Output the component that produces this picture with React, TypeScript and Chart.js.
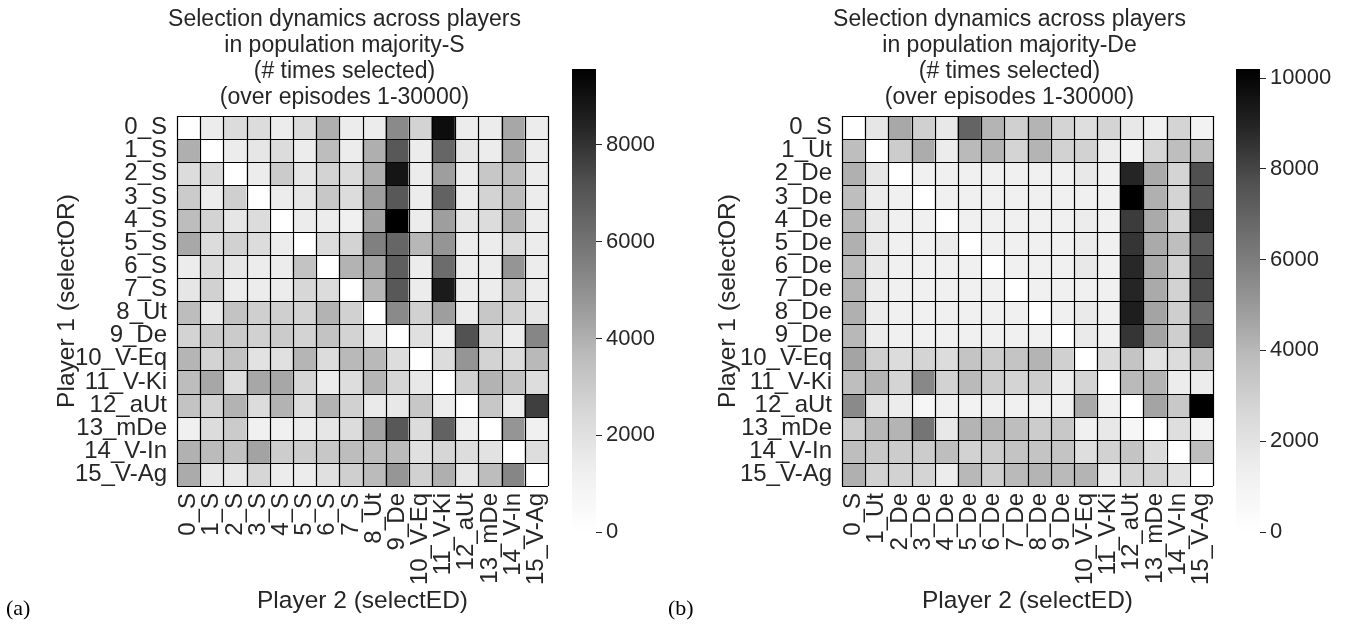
import React, { useEffect, useRef } from 'react';
import { Chart, registerables } from 'chart.js';

Chart.register(...registerables);

const FONT = "'Liberation Sans', Arial, Helvetica, sans-serif";
const TEXT = '#262626';

// ---------- Panel (a): population majority-S ----------
const labelsA = ['0_S', '1_S', '2_S', '3_S', '4_S', '5_S', '6_S', '7_S', '8_Ut', '9_De', '10_V-Eq', '11_V-Ki', '12_aUt', '13_mDe', '14_V-In', '15_V-Ag'];
const titleA = ['Selection dynamics across players', 'in population majority-S', '(# times selected)', '(over episodes 1-30000)'];
const maxA = 9570;
const cbarTicksA = [0, 2000, 4000, 6000, 8000];

const a00 = [0, 1420, 2260, 2260, 1420, 2260, 4030, 1420, 1420, 5180, 2630, 9150, 1420, 1420, 4270, 1420];
const a01 = [4030, 0, 1420, 1730, 2260, 1420, 3590, 1420, 4030, 6960, 1420, 6450, 1730, 1420, 4270, 1420];
const a02 = [2260, 2260, 0, 1420, 2980, 1730, 2630, 2260, 4030, 8890, 1420, 4530, 1420, 3150, 3590, 1420];
const a03 = [2980, 1420, 2800, 0, 1420, 1730, 3150, 2260, 4530, 6960, 1420, 6600, 1420, 2630, 3590, 1420];
const a04 = [3590, 2630, 1730, 2260, 0, 1420, 1420, 1210, 4400, 9570, 1420, 4530, 1730, 2260, 3910, 1420];
const a05 = [4220, 2260, 2720, 2260, 1420, 0, 2260, 2630, 5520, 6450, 3780, 4835, 1420, 1420, 2260, 1420];
const a06 = [1420, 2260, 1730, 1420, 1420, 3330, 0, 3910, 4400, 6740, 1420, 6230, 1420, 1420, 4835, 1420];
const a07 = [1730, 2720, 1420, 1420, 1420, 2460, 2260, 0, 3780, 6960, 1420, 8690, 1420, 1420, 3150, 1420];
const a08 = [3590, 1620, 3330, 2800, 2800, 2630, 3910, 2720, 0, 5180, 2720, 4530, 1420, 3150, 2720, 1730];
const a09 = [2630, 2980, 2980, 2720, 2980, 2630, 3330, 2630, 1620, 0, 2050, 1210, 7180, 2540, 1420, 5320];
const a10 = [3840, 2630, 3330, 1940, 2050, 3840, 2260, 3720, 3720, 2160, 0, 2260, 4835, 2630, 2260, 3720];
const a11 = [3590, 4270, 2160, 4270, 4270, 2540, 1420, 2160, 3840, 2540, 1620, 0, 2720, 3910, 3330, 2160];
const a12 = [3330, 2630, 3910, 2260, 3910, 2160, 3910, 2720, 1530, 1620, 3150, 1420, 0, 3150, 1420, 7680];
const a13 = [1210, 2260, 2980, 1210, 1210, 1420, 1730, 2260, 4400, 6960, 2260, 6600, 1310, 0, 4835, 1210];
const a14 = [3960, 3660, 3410, 4400, 2890, 2890, 3150, 3590, 3590, 3660, 2050, 2540, 2160, 1940, 0, 2160];
const a15 = [4150, 1620, 1620, 2540, 1420, 1420, 2050, 2800, 3660, 4780, 2720, 4030, 1730, 3590, 5320, 0];
const rowsA = [a00, a01, a02, a03, a04, a05, a06, a07, a08, a09, a10, a11, a12, a13, a14, a15];

// ---------- Panel (b): population majority-De ----------
const labelsB = ['0_S', '1_Ut', '2_De', '3_De', '4_De', '5_De', '6_De', '7_De', '8_De', '9_De', '10_V-Eq', '11_V-Ki', '12_aUt', '13_mDe', '14_V-In', '15_V-Ag'];
const titleB = ['Selection dynamics across players', 'in population majority-De', '(# times selected)', '(over episodes 1-30000)'];
const maxB = 10200;
const cbarTicksB = [0, 2000, 4000, 6000, 8000, 10000];

const b00 = [0, 1820, 4500, 2950, 1710, 6940, 4110, 2950, 4110, 2770, 2270, 2770, 1710, 1270, 2770, 1100];
const b01 = [3780, 0, 3140, 4370, 1500, 3920, 4110, 2770, 4110, 2860, 2860, 1500, 1100, 2680, 3780, 3780];
const b02 = [4250, 1820, 0, 1270, 1270, 1270, 1270, 1270, 1270, 1270, 1710, 1270, 8940, 4440, 2770, 7700];
const b03 = [3780, 1500, 1270, 0, 1270, 1270, 1270, 1270, 1270, 1270, 1270, 1270, 10200, 4250, 2770, 7550];
const b04 = [3980, 1710, 1270, 1270, 0, 1270, 1270, 1270, 1270, 1270, 1500, 1270, 8260, 4440, 2770, 8710];
const b05 = [4250, 1710, 1270, 1270, 1500, 0, 1270, 1270, 1270, 1270, 1500, 1270, 8480, 4440, 3780, 7400];
const b06 = [3850, 1710, 1270, 1270, 1270, 1270, 0, 1270, 1270, 1270, 1710, 1270, 8830, 4440, 2860, 7920];
const b07 = [4110, 1500, 1270, 1270, 1270, 1270, 1270, 0, 1270, 1270, 1270, 1270, 8940, 4440, 2860, 7920];
const b08 = [4250, 1500, 1270, 1270, 1270, 1270, 1270, 1270, 0, 1270, 1610, 1270, 9150, 4630, 3040, 6790];
const b09 = [3980, 1500, 1270, 1270, 1270, 1270, 1270, 1270, 1270, 0, 1610, 1270, 8480, 4630, 3040, 7810];
const b10 = [4630, 2950, 2380, 2770, 2380, 3500, 3140, 3500, 4110, 2950, 0, 2380, 3500, 2050, 2380, 3780];
const b11 = [3780, 4110, 2770, 5600, 2860, 3920, 3140, 2770, 3140, 1500, 2770, 0, 3920, 4110, 1500, 1500];
const b12 = [5530, 2050, 1500, 760, 1270, 1100, 1270, 1270, 1270, 1270, 4440, 1270, 0, 4630, 3320, 10200];
const b13 = [3140, 3980, 4110, 6320, 1710, 4110, 4110, 3780, 3140, 3320, 1270, 1710, 760, 0, 2270, 930];
const b14 = [3780, 3320, 3140, 3140, 3780, 2860, 3140, 3500, 3500, 3500, 2270, 2860, 3500, 2380, 0, 3780];
const b15 = [4250, 2860, 2860, 2770, 1500, 3980, 3040, 3920, 4110, 3920, 4110, 1710, 2770, 2860, 2050, 0];
const rowsB = [b00, b01, b02, b03, b04, b05, b06, b07, b08, b09, b10, b11, b12, b13, b14, b15];

// matplotlib "Greys" colormap anchor grey levels
const GREY_STOPS = [255, 240, 217, 189, 150, 115, 82, 37, 0];

function greys(t: number): string {
  const c = Math.max(0, Math.min(1, t));
  const p = c * (GREY_STOPS.length - 1);
  const i = Math.min(GREY_STOPS.length - 2, Math.floor(p));
  const f = p - i;
  const g = Math.round(GREY_STOPS[i] + (GREY_STOPS[i + 1] - GREY_STOPS[i]) * f);
  return `rgb(${g},${g},${g})`;
}

const heatTitlePlugin = {
  id: 'heatTitle',
  afterDraw(chart: any, _args: any, opts: any) {
    const { ctx, chartArea } = chart;
    if (!opts || !opts.lines) return;
    const cx = (chartArea.left + chartArea.right) / 2 + (opts.shift || 0);
    ctx.save();
    ctx.font = `23px ${FONT}`;
    ctx.fillStyle = TEXT;
    ctx.textAlign = 'center';
    ctx.textBaseline = 'middle';
    const n = opts.lines.length;
    opts.lines.forEach((line: string, i: number) => {
      ctx.fillText(line, cx, chartArea.top - 18 - (n - 1 - i) * 26);
    });
    ctx.restore();
  },
};

// black separators between heatmap cells, placed from the scales
const cellLinesPlugin = {
  id: 'cellLines',
  afterDatasetsDraw(chart: any) {
    const { ctx, chartArea, scales } = chart;
    const xs = scales.x;
    const ys = scales.y;
    const nCols = chart.data.labels.length;
    const nRows = chart.data.datasets.length;
    ctx.save();
    ctx.strokeStyle = '#000000';
    ctx.lineWidth = 1.2;
    ctx.beginPath();
    for (let r = 0; r <= nRows; r++) {
      const py = Math.round(ys.getPixelForValue(r)) + 0.5;
      ctx.moveTo(chartArea.left, py);
      ctx.lineTo(chartArea.right, py);
    }
    for (let c = 0; c <= nCols; c++) {
      const px = Math.round(xs.getPixelForValue(c - 0.5)) + 0.5;
      ctx.moveTo(px, chartArea.top);
      ctx.lineTo(px, chartArea.bottom);
    }
    ctx.stroke();
    ctx.restore();
  },
};

type HeatProps = {
  left: number;
  width: number;
  rows: number[][];
  labels: string[];
  max: number;
  title: string[];
  yAxisWidth: number;
  yTitlePad: number;
};

function Heatmap(props: HeatProps) {
  const ref = useRef<HTMLCanvasElement>(null);
  useEffect(() => {
    const canvas = ref.current!;
    const chart = new Chart(canvas, {
      type: 'bar',
      data: {
        labels: props.labels,
        datasets: props.rows.map((row, r) => ({
          label: props.labels[r],
          data: row.map(() => 1),
          backgroundColor: row.map((v) => greys(v / props.max)),
          borderWidth: 0,
          barPercentage: 1,
          categoryPercentage: 1,
          inflateAmount: 0.5,
        })) as any,
      },
      options: {
        responsive: false,
        animation: false,
        events: [],
        layout: { padding: { top: 116, right: 12, bottom: 8, left: 0 } },
        plugins: {
          legend: { display: false },
          tooltip: { enabled: false },
          title: { display: false },
          heatTitle: { lines: props.title, shift: -18 },
        } as any,
        scales: {
          x: {
            type: 'category',
            stacked: true,
            offset: true,
            grid: { display: false, drawTicks: false },
            border: { display: false },
            ticks: {
              autoSkip: false,
              maxRotation: 90,
              minRotation: 90,
              padding: 7,
              color: TEXT,
              font: { family: FONT, size: 24 },
            },
            title: {
              display: true,
              text: 'Player 2 (selectED)',
              color: TEXT,
              font: { family: FONT, size: 24.5 },
              padding: { top: 0, bottom: 3 },
            },
            afterFit: (s: any) => {
              s.height = 133;
              s.paddingLeft = 0;
              s.paddingRight = 0;
            },
          },
          y: {
            type: 'linear',
            stacked: true,
            reverse: true,
            min: 0,
            max: props.rows.length,
            grid: { display: false, drawTicks: false },
            border: { display: false },
            afterBuildTicks: (s: any) => {
              s.ticks = props.labels.map((_l, i) => ({ value: i + 0.5 }));
            },
            ticks: {
              autoSkip: false,
              padding: 10,
              color: TEXT,
              font: { family: FONT, size: 24 },
              callback: (_v: any, i: number) => props.labels[i],
            },
            title: {
              display: true,
              text: 'Player 1 (selectOR)',
              color: TEXT,
              font: { family: FONT, size: 24.5 },
              padding: { top: props.yTitlePad, bottom: 0 },
            },
            afterFit: (s: any) => {
              s.width = props.yAxisWidth;
              s.paddingTop = 0;
              s.paddingBottom = 0;
            },
          },
        } as any,
      },
      plugins: [cellLinesPlugin as any, heatTitlePlugin as any],
    });
    return () => chart.destroy();
  }, []);
  return (
    <canvas
      ref={ref}
      width={props.width}
      height={627}
      style={{ position: 'absolute', left: props.left, top: 0, width: props.width, height: 627 }}
    />
  );
}

type CbarProps = { left: number; max: number; ticks: number[] };

function Colorbar(props: CbarProps) {
  const ref = useRef<HTMLCanvasElement>(null);
  useEffect(() => {
    const canvas = ref.current!;
    const chart = new Chart(canvas, {
      type: 'bar',
      data: {
        labels: [''],
        datasets: [
          {
            data: [props.max],
            backgroundColor: (ctx: any) => {
              const ca = ctx.chart.chartArea;
              if (!ca) return '#888888';
              const g = ctx.chart.ctx.createLinearGradient(0, ca.bottom, 0, ca.top);
              GREY_STOPS.forEach((gv, i) => g.addColorStop(i / (GREY_STOPS.length - 1), `rgb(${gv},${gv},${gv})`));
              return g;
            },
            borderWidth: 0,
            barPercentage: 1,
            categoryPercentage: 1,
            inflateAmount: 0,
          } as any,
        ],
      },
      options: {
        responsive: false,
        animation: false,
        events: [],
        layout: { padding: { top: 19, right: 0, bottom: 18, left: 0 } },
        plugins: { legend: { display: false }, tooltip: { enabled: false } },
        scales: {
          x: { display: false },
          y: {
            position: 'right',
            min: 0,
            max: props.max,
            afterBuildTicks: (s: any) => {
              s.ticks = props.ticks.map((v) => ({ value: v }));
            },
            grid: { drawOnChartArea: false, drawTicks: true, tickLength: 6, color: TEXT, lineWidth: 1 },
            border: { display: false },
            ticks: {
              padding: 4,
              color: TEXT,
              font: { family: FONT, size: 22 },
              callback: (v: any) => String(v),
            },
            afterFit: (s: any) => {
              s.width = 80;
              s.paddingTop = 0;
              s.paddingBottom = 0;
            },
          },
        } as any,
      },
    });
    return () => chart.destroy();
  }, []);
  return (
    <canvas
      ref={ref}
      width={104}
      height={500}
      style={{ position: 'absolute', left: props.left, top: 50, width: 104, height: 500 }}
    />
  );
}

export default function App() {
  const tag: React.CSSProperties = {
    position: 'absolute',
    fontFamily: "'Liberation Serif', 'Times New Roman', serif",
    fontSize: 22,
    lineHeight: '26px',
    color: '#000',
    top: 595,
  };
  return (
    <div style={{ position: 'absolute', left: 0, top: 0, width: 1347, height: 627, background: '#fff', overflow: 'hidden' }}>
      <Heatmap left={0} width={560} rows={rowsA} labels={labelsA} max={maxA} title={titleA} yAxisWidth={177} yTitlePad={53} />
      <Colorbar left={572} max={maxA} ticks={cbarTicksA} />
      <Heatmap left={660} width={565} rows={rowsB} labels={labelsB} max={maxB} title={titleB} yAxisWidth={182} yTitlePad={54} />
      <Colorbar left={1236} max={maxB} ticks={cbarTicksB} />
      <div style={{ ...tag, left: 6 }}>(a)</div>
      <div style={{ ...tag, left: 668 }}>(b)</div>
    </div>
  );
}
